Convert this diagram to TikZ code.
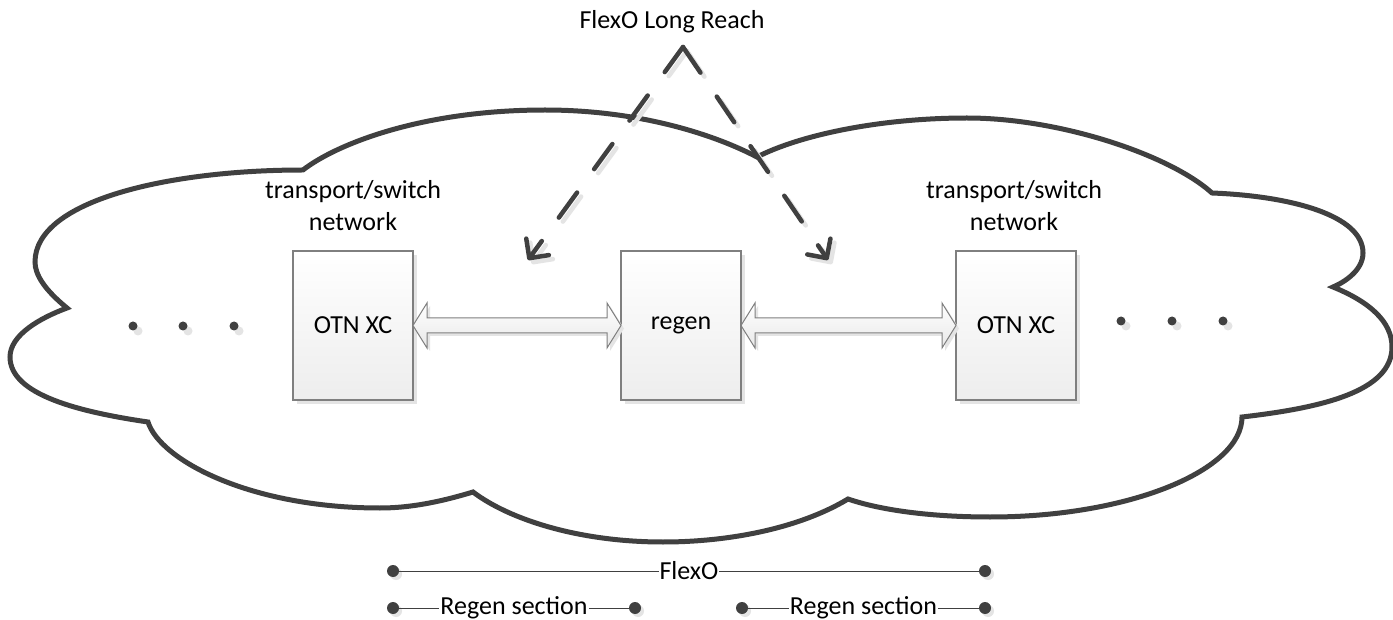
\documentclass[tikz,border=0pt]{standalone}
\usepackage{fontspec}
\setmainfont{Carlito}
\usetikzlibrary{arrows.meta,calc,shadows}
\definecolor{ink}{HTML}{404040}
\definecolor{edge}{HTML}{7F7F7F}
\definecolor{shade}{HTML}{E4E4E4}
\begin{document}
\begin{tikzpicture}[x=1pt,y=-1pt,
  every node/.style={font=\fontsize{26}{32}\selectfont, inner sep=0pt, outer sep=0pt, text=black},
  devbox/.style={draw=edge, line width=1.2pt, top color=white, bottom color=black!7,
     minimum width=120pt, minimum height=149pt,
     drop shadow={shadow xshift=4pt, shadow yshift=-4pt, fill=shade, opacity=1}},
  cloudline/.style={draw=ink, line width=5pt, fill=white, line join=miter},
  blockarr/.style={draw=edge, line width=1pt, top color=white, bottom color=black!9},
  blockshadow/.style={fill=shade, draw=none},
  longreach/.style={draw=ink, line width=4.5pt, line cap=round, dash pattern=on 31pt off 29pt,
     -{Straight Barb[length=14pt,width=28pt,round]}},
  longreachshadow/.style={longreach, draw=shade},
  bigdot/.style={circle, fill=ink, minimum size=9pt,
     drop shadow={shadow xshift=5pt, shadow yshift=-5pt, fill=shade, opacity=1}},
  enddot/.style={circle, fill=ink, minimum size=12pt,
     drop shadow={shadow xshift=3pt, shadow yshift=-3pt, fill=shade, opacity=1}},
  spanline/.style={draw=ink, line width=1pt},
  spanlabel/.style={fill=white, inner xsep=1pt, inner ysep=1pt}
]
\useasboundingbox (0,0) rectangle (1393,620);
\fill[white] (0,0) rectangle (1393,620);

% cloud outline (two merged clouds)
\draw[cloudline] (303,170)
 .. controls (335,145) and (420,110) .. (545,110)
 .. controls (640,110) and (715,135) .. (757,157)
 .. controls (800,135) and (880,118) .. (967,118)
 .. controls (1060,118) and (1170,155) .. (1212,193)
 .. controls (1290,196) and (1363,215) .. (1363,253)
 .. controls (1363,270) and (1345,282) .. (1333,287)
 .. controls (1370,302) and (1392,322) .. (1392,347)
 .. controls (1392,392) and (1320,408) .. (1242,417)
 .. controls (1242,470) and (1130,517) .. (990,517)
 .. controls (930,517) and (880,510) .. (848,499)
 .. controls (800,528) and (730,542) .. (663,542)
 .. controls (580,542) and (510,520) .. (473,492)
 .. controls (440,502) and (410,508) .. (380,508)
 .. controls (250,508) and (160,460) .. (148,422)
 .. controls (80,412) and (10,395) .. (10,357)
 .. controls (10,335) and (40,318) .. (67,308)
 .. controls (45,290) and (35,275) .. (35,262)
 .. controls (35,200) and (170,170) .. (303,170)
 -- cycle;

% texts
\node (flr) at (672,22) {FlexO Long Reach};
\node[align=center] (tsL) at (353,206) {transport/switch\\network};
\node[align=center] (tsR) at (1014,206) {transport/switch\\network};

% boxes
\node[devbox] (xcL) at (353,325.5) {OTN XC};
\node[devbox] (regen) at (681,325.5) {regen};
\node[devbox] (xcR) at (1016,325.5) {OTN XC};

% block double arrows
\begin{scope}[transform canvas={shift={(3pt,-3pt)}}]
\fill[blockshadow] (xcL.east) -- ++(14,-22.5) -- ++(0,15) -- ($(regen.west)+(-14,-7.5)$) -- ++(0,-15)
  -- (regen.west) -- ++(-14,22.5) -- ++(0,-15) -- ($(xcL.east)+(14,7.5)$) -- ++(0,15) -- cycle;
\fill[blockshadow] (regen.east) -- ++(14,-22.5) -- ++(0,15) -- ($(xcR.west)+(-14,-7.5)$) -- ++(0,-15)
  -- (xcR.west) -- ++(-14,22.5) -- ++(0,-15) -- ($(regen.east)+(14,7.5)$) -- ++(0,15) -- cycle;
\end{scope}
\draw[blockarr] (xcL.east) -- ++(14,-22.5) -- ++(0,15) -- ($(regen.west)+(-14,-7.5)$) -- ++(0,-15)
  -- (regen.west) -- ++(-14,22.5) -- ++(0,-15) -- ($(xcL.east)+(14,7.5)$) -- ++(0,15) -- cycle;
\draw[blockarr] (regen.east) -- ++(14,-22.5) -- ++(0,15) -- ($(xcR.west)+(-14,-7.5)$) -- ++(0,-15)
  -- (xcR.west) -- ++(-14,22.5) -- ++(0,-15) -- ($(regen.east)+(14,7.5)$) -- ++(0,15) -- cycle;

% dots
\node[bigdot] (l1) at (133,326) {};
\node[bigdot] (l2) at (183,326) {};
\node[bigdot] (l3) at (234,326) {};
\node[bigdot] (r1) at (1121,321) {};
\node[bigdot] (r2) at (1172,321) {};
\node[bigdot] (r3) at (1223,321) {};

% long reach dashed arrows
\coordinate (apex) at (683,47);
\coordinate (tipL) at (528,260);
\coordinate (tipR) at (828,260);
\begin{scope}[transform canvas={shift={(4pt,-4pt)}}]
\draw[longreachshadow] (apex) -- (tipL);
\draw[longreachshadow] (apex) -- (tipR);
\end{scope}
\draw[longreach] (apex) -- (tipL);
\draw[longreach] (apex) -- (tipR);

% spans
\node[enddot] (fa) at (393,571) {};
\node[enddot] (fb) at (985,571) {};
\node[enddot] (ra) at (393,608) {};
\node[enddot] (rb) at (635,608) {};
\node[enddot] (rc) at (742,608) {};
\node[enddot] (rd) at (985,608) {};
\draw[spanline] (fa) -- (fb) node[midway, spanlabel] {FlexO};
\draw[spanline] (ra) -- (rb) node[midway, spanlabel] {Regen section};
\draw[spanline] (rc) -- (rd) node[midway, spanlabel] {Regen section};
\end{tikzpicture}
\end{document}
